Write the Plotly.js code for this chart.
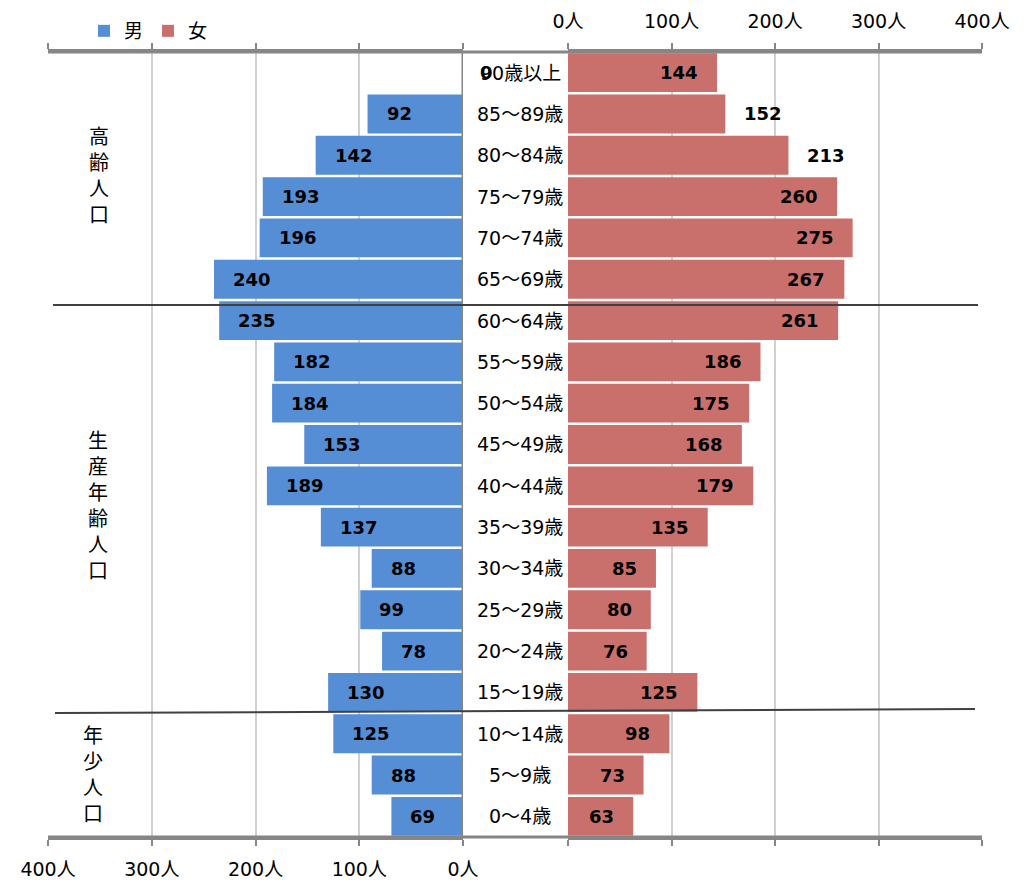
<!DOCTYPE html>
<html>
<head>
<meta charset="utf-8">
<script src="https://cdn.plot.ly/plotly-3.0.1.min.js"></script>
<style>html,body{margin:0;padding:0;background:#fff}</style>
</head>
<body>
<div id="chart" style="width:1029px;height:883px"></div>
<script>
// Age groups, listed from the oldest (top row) to the youngest (bottom row)
const ageGroups = ['90歳以上','85～89歳','80～84歳','75～79歳','70～74歳','65～69歳',
  '60～64歳','55～59歳','50～54歳','45～49歳','40～44歳','35～39歳','30～34歳',
  '25～29歳','20～24歳','15～19歳','10～14歳','5～9歳','0～4歳'];
const male   = [0,92,142,193,196,240,235,182,184,153,189,137,88,99,78,130,125,88,69];
const female = [144,152,213,260,275,267,261,186,175,168,179,135,85,80,76,125,98,73,63];
// Female value labels that sit beyond the end of their bar
const femaleOutside = [false,true,true,false,false,false,false,false,false,false,
  false,false,false,false,false,false,false,false,false];
const xTicks = [0,100,200,300,400];
const tickLabels = xTicks.map(v => v + '人');
const seriesNames = ['男','女'];
const groupNames = ['高齢人口','生産年齢人口','年少人口'];
const groupRows = [[0,5],[6,15],[16,18]];

const W = 1029, H = 883;
const px = v => v / W;           // pixel -> paper x
const py = v => 1 - v / H;       // pixel -> paper y

const FONT = 'DejaVu Sans, "Noto Sans CJK JP", sans-serif';
const BLUE = '#558ED5', RED = '#C9706C';
const AXIS = '#868686', GRID = '#D0D0D0';

const traces = [
  {type:'bar', orientation:'h', name:seriesNames[0], y:ageGroups, x:male,
   xaxis:'x', yaxis:'y', marker:{color:BLUE}, textposition:'none', hoverinfo:'skip'},
  {type:'bar', orientation:'h', name:seriesNames[1], y:ageGroups, x:female,
   xaxis:'x2', yaxis:'y', marker:{color:RED}, textposition:'none', hoverinfo:'skip'}
];

const annotations = [];
const labelFont = {family:FONT, size:18, color:'#000', weight:'bold'};

// Age group names in the centre column
ageGroups.forEach((g, i) => annotations.push({
  xref:'paper', yref:'y', x:px(520), y:g, text:g, showarrow:false,
  xanchor:'center', yanchor:'middle', font:{family:FONT, size:19, color:'#000'}
}));

// Male value labels, just inside the outer end of each bar
male.forEach((v, i) => {
  if (v === 0) {
    annotations.push({xref:'x', yref:'y', x:0, y:ageGroups[i], text:String(v),
      showarrow:false, xanchor:'center', xshift:23, font:labelFont});
  } else {
    annotations.push({xref:'x', yref:'y', x:v, y:ageGroups[i], text:String(v),
      showarrow:false, xanchor:'left', xshift:17, font:labelFont});
  }
});

// Female value labels
female.forEach((v, i) => {
  const out = femaleOutside[i];
  annotations.push({xref:'x2', yref:'y', x:v, y:ageGroups[i], text:String(v),
    showarrow:false, xanchor: out ? 'left' : 'right', xshift: out ? 17 : -17,
    font:labelFont});
});

// Population group captions written vertically on the left
const groupX = [99, 98, 93];
groupNames.forEach((name, k) => annotations.push({
  xref:'paper', yref:'y', x:px(groupX[k]), y:(groupRows[k][0] + groupRows[k][1]) / 2,
  text:name.split('').join('<br>'), showarrow:false, xanchor:'center', yanchor:'middle',
  font:{family:FONT, size:20, color:'#000'}
}));

const shapes = [
  // full-width top and bottom frame lines
  {type:'line', xref:'paper', yref:'paper', x0:px(48), x1:px(982), y0:py(52), y1:py(52),
   line:{color:AXIS, width:3}},
  {type:'line', xref:'paper', yref:'paper', x0:px(48), x1:px(982), y0:py(837), y1:py(837),
   line:{color:AXIS, width:3}},
  // male zero line
  {type:'line', xref:'x', yref:'paper', x0:0, x1:0, y0:py(52), y1:py(837),
   line:{color:AXIS, width:3}},
  // dividers between population groups
  {type:'line', xref:'paper', yref:'paper', x0:px(53), x1:px(978), y0:py(305), y1:py(305),
   line:{color:'#404040', width:2}},
  {type:'line', xref:'paper', yref:'paper', x0:px(55), x1:px(975), y0:py(713), y1:py(709),
   line:{color:'#404040', width:2}}
];

const xCommon = {
  tickmode:'array', tickvals:xTicks, ticktext:tickLabels,
  showgrid:true, gridcolor:GRID, gridwidth:2, zeroline:false,
  showline:true, linecolor:AXIS, linewidth:3, mirror:'ticks',
  ticks:'outside', ticklen:6, tickcolor:AXIS, tickwidth:2,
  ticklabelstandoff:7, fixedrange:true,
  tickfont:{family:FONT, size:19, color:'#000'}
};

const layout = {
  width:W, height:H, margin:{l:0, r:0, t:0, b:0},
  paper_bgcolor:'#fff', plot_bgcolor:'rgba(0,0,0,0)',
  barmode:'overlay', bargap:0.06,
  showlegend:true,
  legend:{orientation:'h', x:px(84), y:py(12), xanchor:'left', yanchor:'top',
    font:{family:FONT, size:19, color:'#000'}, itemwidth:30, traceorder:'normal',
    bgcolor:'rgba(0,0,0,0)'},
  xaxis:Object.assign({}, xCommon, {domain:[px(48), px(463)], range:[400, 0],
    side:'bottom', anchor:'y'}),
  xaxis2:Object.assign({}, xCommon, {domain:[px(568), px(982)], range:[0, 400],
    side:'top', anchor:'y'}),
  yaxis:{type:'category', autorange:'reversed', domain:[py(837), py(52)],
    showticklabels:false, showgrid:false, zeroline:false, showline:false,
    ticks:'', fixedrange:true},
  annotations:annotations,
  shapes:shapes
};

Plotly.newPlot('chart', traces, layout, {staticPlot:true, displayModeBar:false});
</script>
</body>
</html>
